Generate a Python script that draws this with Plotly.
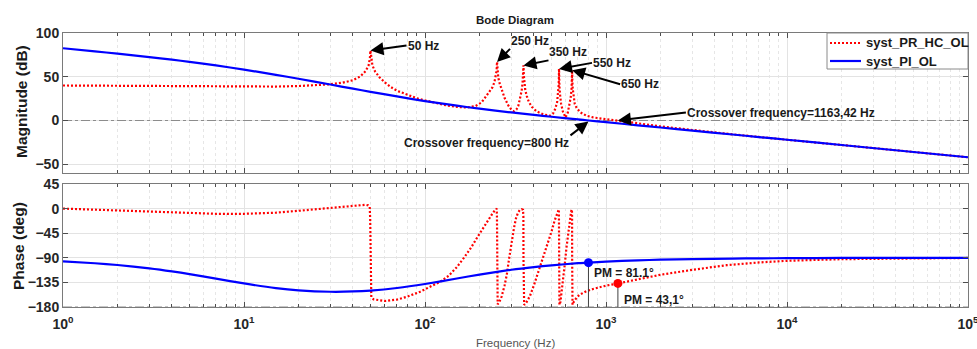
import numpy as np
import plotly.graph_objects as go

# ---------------- data ----------------
# PI controller open loop (syst_PI_OL)
pi_freq = [1, 1.5, 2, 3, 4, 5, 7, 10, 15, 20, 30, 40, 50, 70, 100, 150, 200, 300,
           400, 500, 700, 800, 1000, 1500, 2000, 3000, 5000, 7000, 10000, 20000,
           50000, 100000]
pi_mag = [82.6, 79.0, 76.4, 72.5, 69.5, 67.0, 62.9, 58.2, 52.2, 47.7, 41.1, 36.4,
          32.8, 27.5, 22.2, 16.9, 13.5, 9.2, 6.4, 4.3, 1.2, 0.0, -1.95, -5.5, -8.0,
          -11.55, -16.0, -18.9, -22.0, -28.0, -36.0, -42.0]
pi_phase = [-96.7, -100.0, -103.2, -109.2, -114.8, -119.8, -128.1, -136.9, -145.4,
            -149.5, -152.1, -151.6, -149.9, -145.2, -137.9, -127.9, -120.7, -111.9,
            -106.9, -103.7, -99.9, -98.9, -97.0, -94.6, -93.5, -92.3, -91.4, -91.0,
            -90.7, -90.3, -90.1, -90.1]

# PR controller + harmonic compensators open loop (syst_PR_HC_OL)
pr_mag_freq = [1, 2, 3, 5, 7, 10, 15, 20, 25, 30, 35, 40, 44, 47, 48.8, 49.6, 50,
               50.4, 51.2, 53, 56, 60, 65, 70, 80, 90, 100, 115, 130, 150, 170, 190,
               205, 218, 228, 236, 242, 246, 248.6, 250, 251.4, 254, 258, 265, 275,
               289, 300, 310, 320, 328, 336, 342, 346, 348.5, 350, 351.5, 354, 358,
               365, 375, 390, 413, 450, 490, 510, 525, 537, 544, 547.5, 549.3, 550,
               550.8, 553, 557, 565, 578, 598, 615, 628, 638, 645, 648.5, 650, 651.5,
               655, 662, 672, 688, 720, 778, 850, 1000, 1163.42, 1500, 2000, 3000,
               5000, 10000, 20000, 50000, 100000]
pr_mag = [40.0, 39.8, 39.5, 39.0, 38.7, 38.6, 38.8, 39.4, 40.3, 41.4, 43.2, 46.0,
          50.5, 56.5, 63, 71, 80, 71, 63, 56, 49.5, 43.5, 38, 34, 29, 25.5, 23, 19.8,
          17.5, 15.5, 14.8, 16.5, 20.5, 28, 33, 38, 44, 50, 57, 67, 57, 49, 43, 36,
          26, 17, 12.5, 10.5, 12.5, 17, 25, 34, 43, 52, 63, 52, 42, 35, 28, 21, 15.5,
          10.5, 7, 5.5, 8, 13.5, 21, 30, 40, 49, 59, 49, 39, 30, 19, 10, 3.5, 9, 17,
          26, 36, 46, 57.5, 46, 36, 26, 19, 14.5, 9.5, 5.5, 3.5, 1.5, 0.0, -3.2,
          -6.8, -11, -15.8, -22, -28, -36, -42]

pr_ph_freq = [1, 2, 3, 5, 7, 10, 15, 20, 25, 30, 35, 40, 45, 47, 48.5, 49.5, 49.8,
              49.95, 50.1, 50.5, 52, 56, 60, 70, 80, 94, 106, 121, 135, 150, 165, 180,
              195, 210, 225, 238, 246, 249, 249.8, 250, 250.3, 252, 256, 265, 275,
              283, 292, 301, 310, 318, 326, 334, 342, 348, 349.6, 350, 350.4, 353,
              360, 380, 400, 425, 450, 475, 500, 520, 535, 545, 548.5, 549.6, 550,
              550.4, 553, 560, 575, 590, 605, 620, 632, 642, 648, 649.6, 650, 650.4,
              653, 660, 690, 720, 780, 849, 1000, 1163.42, 1500, 2000, 3000, 4640,
              7000, 10000, 20000, 50000, 100000]
pr_phase = [0, -3.5, -5.5, -8, -9.5, -9.5, -7.5, -4, -1, 1.5, 3, 4.5, 6, 7, 6, 3,
            -20, -90, -150, -162, -166, -168, -169, -166.5, -161, -152, -144, -134,
            -123, -107, -89, -71, -52, -35, -19, -7, -1.5, 0, -15, -90, -165, -175,
            -172.5, -161, -141, -121, -90, -60, -36, -18, -8, -2.5, -1, -2, -15, -90,
            -165, -176, -174, -160, -140, -114, -89, -64, -42, -22, -9, -2.5, -1.5,
            -15, -90, -165, -176, -171, -142, -106, -71, -41, -18, -5, -1.5, -15, -90,
            -165, -176, -172, -162, -157, -151, -147, -141, -136.9, -129, -121, -112,
            -103.5, -98.5, -95.5, -92.5, -91, -90.3]

# crossover frequencies (Hz) and phase margins (deg)
wc_pi, pm_pi = 800, 81.1
wc_pr, pm_pr = 1163.42, 43.1

# resonance labels: (frequency, peak magnitude)
res_freq = [50, 250, 350, 550, 650]
res_peak = [80, 67, 63, 59, 57.5]

series_names = ["syst_PR_HC_OL", "syst_PI_OL"]

decades = [1, 10, 100, 1000, 10000, 100000]
dec_text = ["10<sup>%d</sup>" % k for k in range(6)]
minor_vals = [m * d for d in decades[:-1] for m in range(2, 10)]

# ---------------- styling ----------------
FONT = "Liberation Sans, Arial, Helvetica, sans-serif"
RED, BLUE = "#ff0000", "#0000ff"
RED_DASH = "2px,2px"
W, H = 977, 349
L, T, R, B = 63, 33, 9, 42
PW, PH = W - L - R, H - T - B


def paper(px, py):
    return (px - L) / PW, (T + PH - py) / PH


fig = go.Figure()

# reference lines (0 dB, -180 deg)
fig.add_trace(go.Scatter(x=[decades[0], decades[-1]], y=[0, 0], mode="lines",
                         line=dict(color="#8c8c8c", width=1, dash="dashdot"),
                         showlegend=False, hoverinfo="skip", xaxis="x", yaxis="y"))
fig.add_trace(go.Scatter(x=[decades[0], decades[-1]], y=[-180, -180], mode="lines",
                         line=dict(color="#8c8c8c", width=1, dash="dashdot"),
                         showlegend=False, hoverinfo="skip", xaxis="x2", yaxis="y2"))

red_line = dict(color=RED, width=2.2, dash=RED_DASH)
blue_line = dict(color=BLUE, width=2.2, shape="spline", smoothing=0.6)

fig.add_trace(go.Scatter(x=pr_mag_freq, y=pr_mag, mode="lines", line=red_line,
                         name=series_names[0], showlegend=False, xaxis="x", yaxis="y"))
fig.add_trace(go.Scatter(x=pr_ph_freq, y=pr_phase, mode="lines", line=red_line,
                         name=series_names[0], showlegend=False, xaxis="x2", yaxis="y2"))
fig.add_trace(go.Scatter(x=pi_freq, y=pi_mag, mode="lines", line=blue_line,
                         name=series_names[1], showlegend=False, xaxis="x", yaxis="y"))
fig.add_trace(go.Scatter(x=pi_freq, y=pi_phase, mode="lines", line=blue_line,
                         name=series_names[1], showlegend=False, xaxis="x2", yaxis="y2"))

# phase-margin markers with drop lines
for wc, pm, col in [(wc_pi, pm_pi, BLUE), (wc_pr, pm_pr, RED)]:
    fig.add_trace(go.Scatter(x=[wc, wc], y=[pm - 180, -180], mode="lines",
                             line=dict(color="#404040", width=1), showlegend=False,
                             hoverinfo="skip", xaxis="x2", yaxis="y2"))
    fig.add_trace(go.Scatter(x=[wc], y=[pm - 180], mode="markers",
                             marker=dict(color=col, size=9), showlegend=False,
                             xaxis="x2", yaxis="y2"))

# ---------------- axes ----------------
common = dict(showline=True, linecolor="#7a7a7a", linewidth=1, mirror="allticks",
              ticks="inside", tickcolor="#4d4d4d", ticklen=5, showgrid=True,
              gridcolor="#e3e3e3", gridwidth=1, zeroline=False, automargin=False,
              tickfont=dict(family=FONT, size=14, color="#262626", weight="bold"))
xcommon = dict(common, type="log", range=[0, 5], tickmode="array", tickvals=decades,
               ticklabeloverflow="allow",
               minor=dict(tickmode="array", tickvals=minor_vals, ticks="inside",
                          ticklen=3, tickcolor="#4d4d4d", showgrid=True,
                          gridcolor="#e6e6e6", griddash="dot"))

fig.update_layout(
    width=W, height=H, margin=dict(l=L, r=R, t=T, b=B, autoexpand=False),
    paper_bgcolor="white", plot_bgcolor="white",
    font=dict(family=FONT, color="#262626"),
    xaxis=dict(xcommon, anchor="y", domain=[0, 1], showticklabels=False,
               matches="x2"),
    xaxis2=dict(xcommon, anchor="y2", domain=[0, 1], ticktext=dec_text,
                ticklabelstandoff=4),
    yaxis=dict(common, anchor="x", domain=[(H - B - 173) / PH, 1], range=[-60, 100],
               tickmode="array", tickvals=[-50, 0, 50, 100]),
    yaxis2=dict(common, anchor="x2", domain=[0, (H - B - 184) / PH],
                range=[-180, 45], tickmode="array",
                tickvals=[-180, -135, -90, -45, 0, 45]),
    showlegend=False,
)

ann = []
shapes = []


def text_at(px, py, s, size=12, bold=True, color="#1a1a1a", angle=0, xanchor="center"):
    x, y = paper(px, py)
    ann.append(dict(x=x, y=y, xref="paper", yref="paper", text=s, showarrow=False,
                    xanchor=xanchor, yanchor="middle", textangle=angle,
                    font=dict(family=FONT, size=size, color=color,
                              weight="bold" if bold else "normal")))


def arrow_label(freq, mag, s, dx, dy, xanchor, yanchor):
    # label text attached to an arrow pointing at (freq, mag) on the magnitude axes
    ann.append(dict(x=np.log10(freq), y=mag, xref="x", yref="y", text=s,
                    showarrow=True, ax=dx, ay=dy, axref="pixel", ayref="pixel",
                    xanchor=xanchor, yanchor=yanchor, borderpad=0,
                    arrowhead=2, arrowsize=1.3, arrowwidth=2, arrowcolor="#000000",
                    font=dict(family=FONT, size=12, color="#1a1a1a", weight="bold")))


text_at(514.5, 20, "Bode Diagram", size=11.5)
text_at(515, 343, "Frequency (Hz)", size=11.5, bold=False, color="#555555")
text_at(22, 102, "Magnitude (dB)", size=15.5, angle=-90)
text_at(18, 246, "Phase (deg)", size=15.5, angle=-90)

# resonance labels
res_offsets = [(36, -5, "left", "middle"), (13, -13, "left", "bottom"),
               (25, -5, "left", "bottom"), (33, -6, "left", "middle"),
               (48, 14, "left", "middle")]
for f, pk, (dx, dy, xa, ya) in zip(res_freq, res_peak, res_offsets):
    arrow_label(f, pk, "%d Hz" % f, dx, dy, xa, ya)

# crossover labels
arrow_label(wc_pr, 0, "Crossover frequency=%s Hz" % str(wc_pr).replace(".", ","),
            68, -8, "left", "middle")
arrow_label(wc_pi, -1, "Crossover frequency=%d Hz" % wc_pi, -18, 14, "right", "top")

# phase margin labels
text_at(623.5, 273, "PM = %.1f°" % pm_pi)
text_at(653.5, 300, ("PM = %.1f°" % pm_pr).replace(".", ","))

# legend box drawn in the top-right corner of the magnitude axes
lx0, ly0 = paper(827, 33)
lx1, ly1 = paper(968, 69)
shapes.append(dict(type="rect", xref="paper", yref="paper", x0=lx0, x1=lx1,
                   y0=ly1, y1=ly0, line=dict(color="#8a8a8a", width=1),
                   fillcolor="white", layer="above"))
for name, col, dash, row_y in [(series_names[0], RED, RED_DASH, 43),
                               (series_names[1], BLUE, "solid", 61)]:
    sx0, sy = paper(830, row_y)
    sx1, _ = paper(861, row_y)
    shapes.append(dict(type="line", xref="paper", yref="paper", x0=sx0, x1=sx1,
                       y0=sy, y1=sy, line=dict(color=col, width=2.2, dash=dash),
                       layer="above"))
    text_at(864, row_y, name, size=13, xanchor="left")

fig.update_layout(annotations=ann, shapes=shapes)
fig.write_html("out.html")
